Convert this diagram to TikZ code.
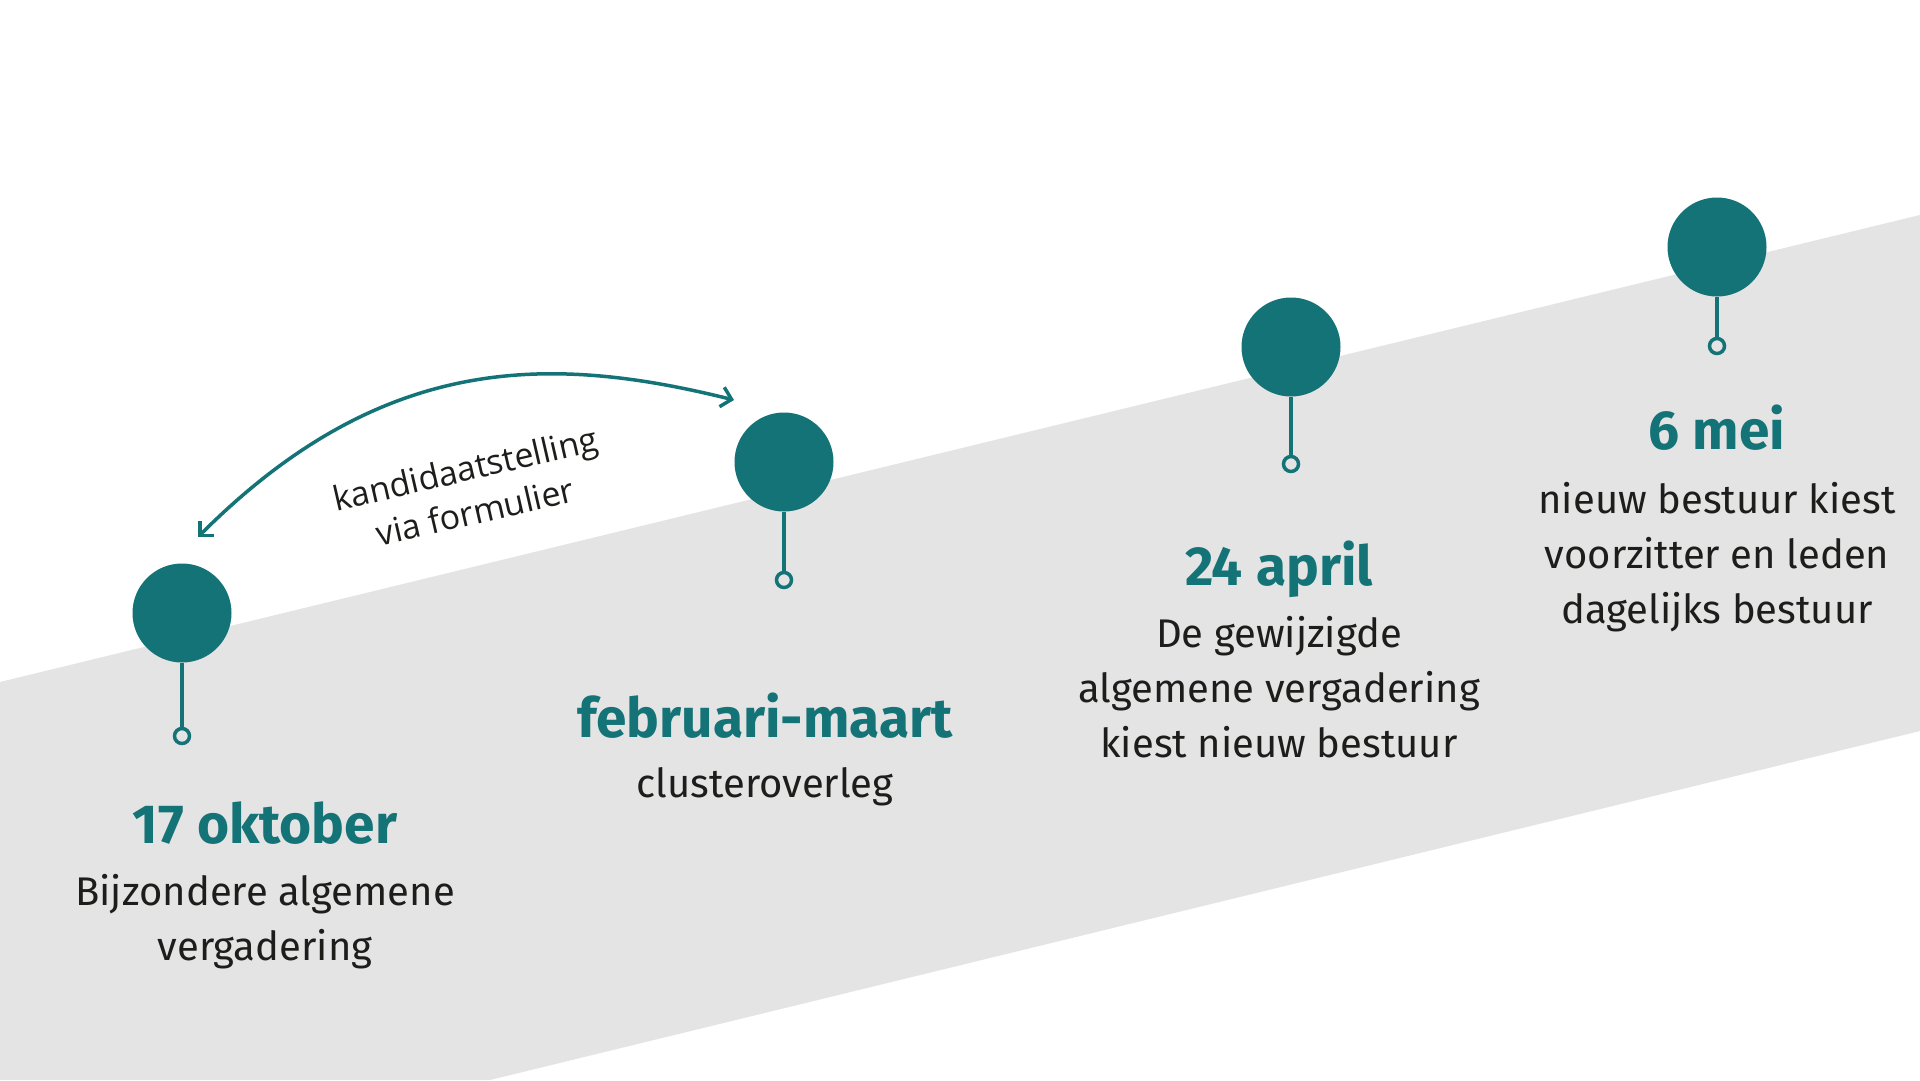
\documentclass[tikz,border=0pt]{standalone}
\usepackage{fontspec}
\setmainfont{Fira Sans}
\newfontfamily\labelfont{Open Sans}
\usetikzlibrary{arrows.meta}
\definecolor{tijdteal}{HTML}{147377}
\definecolor{bandgrijs}{HTML}{E4E4E4}
\definecolor{tekstzwart}{HTML}{1D1D1B}

\begin{document}
\begin{tikzpicture}[x=1pt,y=-1pt,
    bol/.style={circle, fill=tijdteal, minimum size=99pt, inner sep=0pt},
    ring/.style={circle, draw=tijdteal, line width=3.5pt, minimum size=15pt, inner sep=0pt},
    steel/.style={draw=tijdteal, line width=4pt},
    datum/.style={anchor=base, text=tijdteal, font=\fontsize{55}{66}\selectfont\bfseries},
    uitleg/.style={anchor=base, align=center, text=tekstzwart, font=\fontsize{40}{55}\selectfont}]
    \useasboundingbox (0,0) rectangle (1920,1080);
    \fill[white] (0,0) rectangle (1920,1080);
    \fill[bandgrijs] (0,682) -- (1920,215) -- (1920,731) -- (490,1080) -- (0,1080) -- cycle;
    \node[bol] (bol1) at (182,613) {};
    \node[bol] (bol2) at (784,462) {};
    \node[bol] (bol3) at (1291,347) {};
    \node[bol] (bol4) at (1717,247) {};
    \node[ring] (ring1) at (182,736) {};
    \node[ring] (ring2) at (784,580) {};
    \node[ring] (ring3) at (1291,464) {};
    \node[ring] (ring4) at (1717,346) {};
    \draw[steel] (bol1.south) -- (ring1.north);
    \draw[steel] (bol2.south) -- (ring2.north);
    \draw[steel] (bol3.south) -- (ring3.north);
    \draw[steel] (bol4.south) -- (ring4.north);
    \node[datum] (datum1) at (265,843) {17 oktober};
    \node[uitleg] (uitleg1) at (265,960) {Bijzondere algemene\\vergadering};
    \node[datum] (datum2) at (765,737) {februari-maart};
    \node[uitleg] (uitleg2) at (765,797) {clusteroverleg};
    \node[datum] (datum3) at (1279,585) {24 april};
    \node[uitleg] (uitleg3) at (1279,757) {De gewijzigde\\algemene vergadering\\kiest nieuw bestuur};
    \node[datum] (datum4) at (1717,449) {6 mei};
    \node[uitleg] (uitleg4) at (1717,623) {nieuw bestuur kiest\\voorzitter en leden\\dagelijks bestuur};
    \coordinate (pijlbegin) at (198,537);
    \coordinate (pijleind) at (734,400);
    \draw[tijdteal, line width=3.5pt, {Straight Barb[length=10pt,width=20pt]}-{Straight Barb[length=10pt,width=20pt]}]
        (pijlbegin) .. controls (382,353) and (549,354) .. (pijleind);
    \node (kandidaat) at (470,490)[rotate=13, align=center, text=tekstzwart,
        font=\labelfont\fontsize{34}{44}\selectfont] {kandidaatstelling\\via formulier};
\end{tikzpicture}
\end{document}
